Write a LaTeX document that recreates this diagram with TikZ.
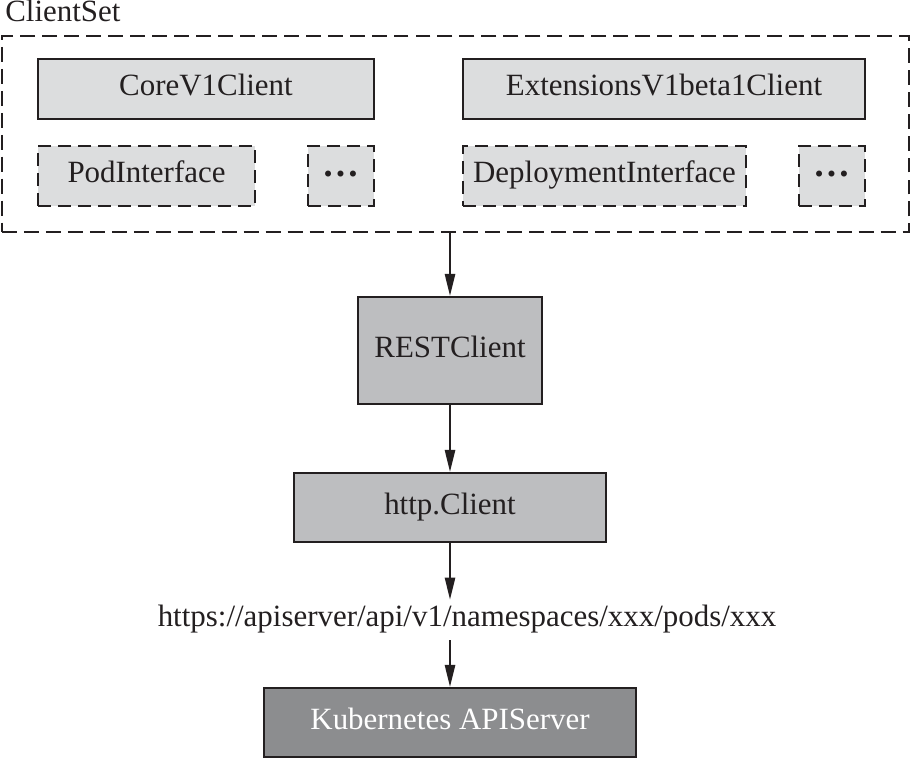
\documentclass[tikz,border=0pt]{standalone}
\usepackage{fontspec}
\setmainfont{Liberation Serif}
\usetikzlibrary{arrows.meta}
\definecolor{inkgray}{HTML}{231F20}
\definecolor{boxlight}{HTML}{DCDDDE}
\definecolor{boxmid}{HTML}{BDBEC0}
\definecolor{boxdark}{HTML}{8C8D8F}

\begin{document}
\begin{tikzpicture}[scale=1.0,>={Triangle[length=12.5pt,width=5.8pt]},
  font=\fontsize{17.6}{21}\selectfont,
  box/.style={draw=inkgray,text=inkgray,line width=1.2pt,inner sep=0pt,
    minimum height=1.2cm,text height=0.9em,text depth=0.12em},
  dashbox/.style={box,dash pattern=on 7.4pt off 4pt},
  dotsbox/.style={dashbox,fill=boxlight,minimum width=1.32cm,
    text height=0.1em,text depth=0pt,font=\fontsize{21}{25}\selectfont\bfseries}]
  \useasboundingbox (0,0) rectangle (18.22,15.24);
  \node[draw=inkgray,line width=1.2pt,dash pattern=on 8.5pt off 4pt,
    minimum width=18.14cm,minimum height=3.92cm] (clientset) at (9.11,12.56) {};
  \node[anchor=base west,inner sep=0pt,text=inkgray] (setlabel) at (0.1,14.8) {ClientSet};
  \node[box,fill=boxlight,minimum width=6.72cm] (core) at (4.12,13.46) {CoreV1Client};
  \node[box,fill=boxlight,minimum width=8.04cm] (ext) at (13.28,13.46) {ExtensionsV1beta1Client};
  \node[dashbox,fill=boxlight,minimum width=4.34cm] (pod) at (2.93,11.72) {PodInterface};
  \node[dotsbox] (poddots) at (6.82,11.72) {…};
  \node[dashbox,fill=boxlight,minimum width=5.66cm] (deploy) at (12.09,11.72) {DeploymentInterface};
  \node[dotsbox] (deploydots) at (16.64,11.72) {…};
  \node[box,fill=boxmid,minimum width=3.68cm,minimum height=2.14cm] (rest) at (9.0,8.23) {RESTClient};
  \node[box,fill=boxmid,minimum width=6.24cm,minimum height=1.38cm] (http) at (9.0,5.09) {http.Client};
  \node[text=inkgray,inner sep=0pt,minimum height=0.8cm,text height=0.9em,text depth=0.12em] (url) at (9.34,2.84)
    {https://apiserver/api/v1/namespaces/xxx/pods/xxx};
  \node[box,fill=boxdark,text=white,minimum width=7.44cm,minimum height=1.38cm] (kube) at (9.0,0.79) {Kubernetes APIServer};
  \draw[->,line width=1.1pt,inkgray] (clientset.south -| rest.north) -- (rest.north);
  \draw[->,line width=1.1pt,inkgray] (rest.south) -- (http.north);
  \draw[->,line width=1.1pt,inkgray] (http.south) -- (http.south |- url.north);
  \draw[->,line width=1.1pt,inkgray] (http.south |- url.south) -- (kube.north);
\end{tikzpicture}
\end{document}
